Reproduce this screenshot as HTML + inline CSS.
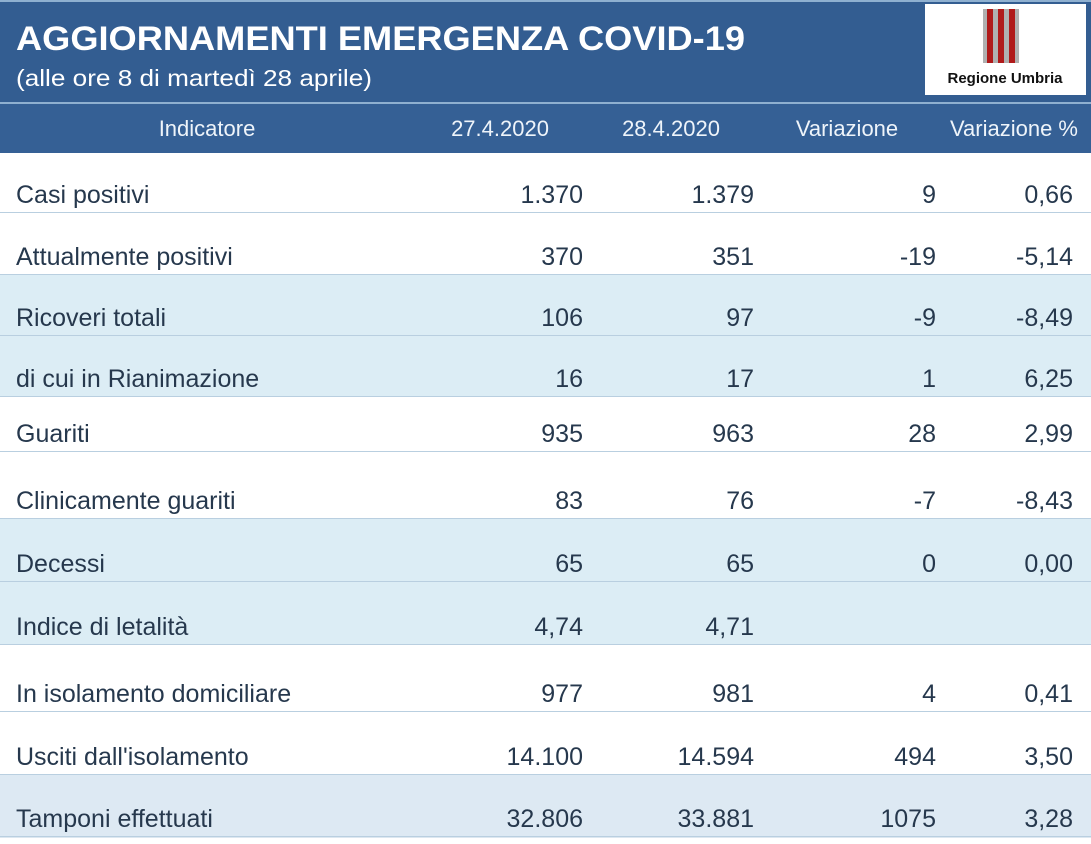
<!DOCTYPE html>
<html><head><meta charset="utf-8"><style>
body{margin:0;width:1091px;height:839px;overflow:hidden;background:#fff;font-family:"Liberation Sans",sans-serif}
</style></head><body>
<svg width="1091" height="839" xmlns="http://www.w3.org/2000/svg" font-family="Liberation Sans, sans-serif">
<rect x="0" y="0" width="1091" height="103" fill="#335d91"/>
<rect x="0" y="0" width="1091" height="2" fill="#8fb0d0"/>
<text x="16" y="50" font-size="34" font-weight="bold" fill="#fff" textLength="729" lengthAdjust="spacingAndGlyphs">AGGIORNAMENTI EMERGENZA COVID-19</text>
<text x="16" y="86" font-size="23" fill="#fff" textLength="356" lengthAdjust="spacingAndGlyphs">(alle ore 8 di martedì 28 aprile)</text>
<g>
<rect x="925" y="4" width="161" height="91" fill="#fff"/>
<rect x="983" y="9" width="36" height="54" fill="#b0b0b0"/>
<rect x="987" y="9" width="6" height="54" fill="#b01a1a"/>
<rect x="998" y="9" width="6" height="54" fill="#b01a1a"/>
<rect x="1009" y="9" width="6" height="54" fill="#b01a1a"/>
<text x="1005" y="83" font-size="15" font-weight="bold" fill="#111" text-anchor="middle">Regione Umbria</text>
</g>
<rect x="0" y="103" width="1091" height="50" fill="#356095"/>
<rect x="0" y="102" width="1091" height="2" fill="#8fb0d0"/>
<g font-size="22" fill="#eef4fa" text-anchor="middle">
<text x="207" y="136">Indicatore</text>
<text x="500" y="136">27.4.2020</text>
<text x="671" y="136">28.4.2020</text>
<text x="847" y="136">Variazione</text>
<text x="1014" y="136">Variazione %</text>
</g>
<g id="rows"></g>
</svg>
<script>
const labels=["Casi positivi","Attualmente positivi","Ricoveri totali","di cui in Rianimazione","Guariti","Clinicamente guariti","Decessi","Indice di letalità","In isolamento domiciliare","Usciti dall'isolamento","Tamponi effettuati"];
const col1=["1.370","370","106","16","935","83","65","4,74","977","14.100","32.806"];
const col2=["1.379","351","97","17","963","76","65","4,71","981","14.594","33.881"];
const col3=["9","-19","-9","1","28","-7","0","","4","494","1075"];
const col4=["0,66","-5,14","-8,49","6,25","2,99","-8,43","0,00","","0,41","3,50","3,28"];
const tops=[153,213,275,336,397,452,519,582,645,712,775,837];
const shaded=[false,false,true,true,false,false,true,true,false,false,true];
const NS="http://www.w3.org/2000/svg";
const g=document.getElementById('rows');
const rightX=[583,754,936,1073];
function t(x,y,s,anchor,name){const e=document.createElementNS(NS,'text');e.setAttribute('x',x);e.setAttribute('y',y);e.setAttribute('font-size','25');e.setAttribute('fill','#26384d');e.setAttribute('text-anchor',anchor);e.textContent=s;


g.appendChild(e);}
labels.forEach((lab,i)=>{
 const y0=tops[i],y1=tops[i+1];
 const r=document.createElementNS(NS,'rect');r.setAttribute('x',0);r.setAttribute('y',y0);r.setAttribute('width',1091);r.setAttribute('height',y1-y0);r.setAttribute('fill',shaded[i]?(i==10?'#dde9f3':'#dcedf5'):'#fff');
 
 
 g.appendChild(r);
 const l=document.createElementNS(NS,'rect');l.setAttribute('x',0);l.setAttribute('y',y1-1);l.setAttribute('width',1091);l.setAttribute('height',1.5);l.setAttribute('fill','#b9cfe0');g.appendChild(l);
 const by=y1-10;
 t(16,by,lab,'start','row-label');
 [col1[i],col2[i],col3[i],col4[i]].forEach((v,k)=>{if(v!=='')t(rightX[k],by,v,'end','cell-value');});
});
</script>
</body></html>
